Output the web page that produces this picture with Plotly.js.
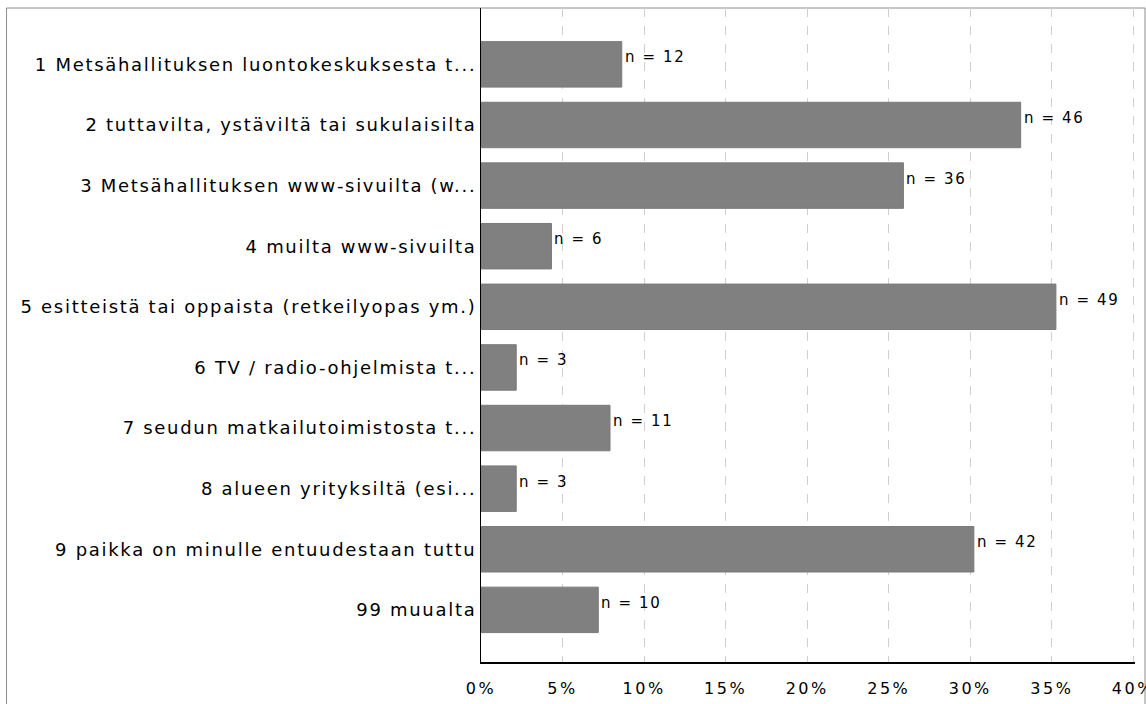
<!DOCTYPE html>
<html>
<head>
<meta charset="utf-8">
<script src="https://cdn.plot.ly/plotly-3.0.1.min.js"></script>
<style>
html,body{margin:0;padding:0;background:#fff;}
#chart{width:1146px;height:704px;}
.ytick text { letter-spacing: 1.7px; }
.xtick text { letter-spacing: 2.5px; }
.annotation-text { letter-spacing: 1.6px; }
</style>
</head>
<body>
<div id="chart"></div>
<script>
const categories = [
  "1 Metsähallituksen luontokeskuksesta t...",
  "2 tuttavilta, ystäviltä tai sukulaisilta",
  "3 Metsähallituksen www-sivuilta (w...",
  "4 muilta www-sivuilta",
  "5 esitteistä tai oppaista (retkeilyopas ym.)",
  "6 TV / radio-ohjelmista t...",
  "7 seudun matkailutoimistosta t...",
  "8 alueen yrityksiltä (esi...",
  "9 paikka on minulle entuudestaan tuttu",
  "99 muualta"
];
const counts = [12, 46, 36, 6, 49, 3, 11, 3, 42, 10];
const percents = [8.63, 33.09, 25.90, 4.32, 35.25, 2.16, 7.91, 2.16, 30.22, 7.19];
const tickVals = [0, 5, 10, 15, 20, 25, 30, 35, 40];
const tickText = ["0%", "5%", "10%", "15%", "20%", "25%", "30%", "35%", "40%"];

const font = "DejaVu Sans, sans-serif";

const trace = {
  type: "bar",
  orientation: "h",
  x: percents,
  y: categories,
  marker: {color: "#808080", line: {color: "#7a7a7a", width: 1}},
  width: 0.75,
  hoverinfo: "none"
};

const annotations = categories.map((c, i) => ({
  x: percents[i], y: c, xref: "x", yref: "y",
  text: "n = " + counts[i],
  showarrow: false, xanchor: "left", yanchor: "middle",
  xshift: 1, yshift: 7,
  font: {family: font, size: 15, color: "#000"}
}));

const layout = {
  width: 1146, height: 704,
  paper_bgcolor: "#fff", plot_bgcolor: "#fff",
  margin: {l: 481, r: 11, t: 8, b: 42, pad: 0},
  showlegend: false,
  bargap: 0.25,
  xaxis: {
    range: [0, 40.1], tickvals: tickVals, ticktext: tickText,
    showgrid: true, gridcolor: "#cfcfcf", griddash: "dash", gridwidth: 1,
    zeroline: false, showline: true, linecolor: "#000", linewidth: 2,
    ticks: "", tickfont: {family: font, size: 16, color: "#000"},
    ticklabelstandoff: 11, ticklabeloverflow: "allow", fixedrange: true
  },
  yaxis: {
    type: "category", range: [9.86, -0.93],
    showgrid: false, zeroline: false, showline: true, linecolor: "#000", linewidth: 1,
    ticks: "", tickfont: {family: font, size: 18, color: "#000"},
    ticklabelstandoff: 0, fixedrange: true
  },
  annotations: annotations,
  shapes: [{
    type: "rect", xref: "paper", yref: "paper",
    x0: -0.7255, x1: 1.0153, y0: -0.08, y1: 1.0,
    line: {color: "#8c8c8c", width: 1}, fillcolor: "rgba(0,0,0,0)", layer: "below"
  }]
};

Plotly.newPlot("chart", [trace], layout, {displayModeBar: false, staticPlot: true});
</script>
</body>
</html>
